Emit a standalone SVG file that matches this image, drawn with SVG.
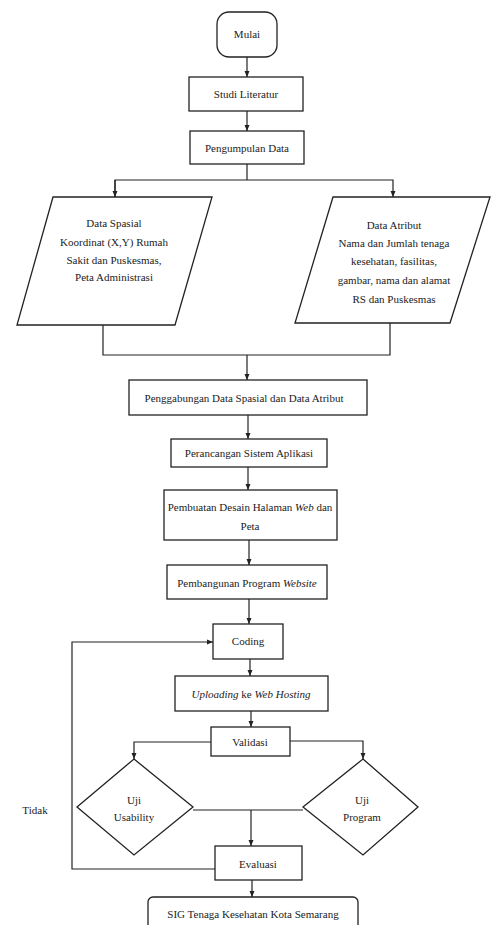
<svg xmlns="http://www.w3.org/2000/svg" width="491" height="925" viewBox="0 0 491 925">
<style>
.n{fill:#fff;stroke:#222;stroke-width:1.3}
.c{fill:none;stroke:#222;stroke-width:1.2}
text{font-family:"Liberation Serif","Times New Roman",serif;font-size:11px;fill:#222;text-anchor:middle;dominant-baseline:central}
.i{font-style:italic}
</style>
<defs>
<marker id="a" markerUnits="userSpaceOnUse" markerWidth="6" markerHeight="6" viewBox="0 0 6 6" refX="6" refY="3" orient="auto">
<path d="M0,0.5 L6,3 L0,5.5 Z" fill="#222"/>
</marker>
</defs>
<rect width="491" height="925" fill="#fff"/>
<g id="connectors">
<line class="c" x1="247" y1="57" x2="247" y2="77" marker-end="url(#a)"/>
<line class="c" x1="247" y1="111" x2="247" y2="131" marker-end="url(#a)"/>
<line class="c" x1="247" y1="164" x2="247" y2="180"/>
<polyline class="c" points="115,197 115,180 393,180 393,197" marker-end="url(#a)"/>
<line class="c" x1="115" y1="180" x2="115" y2="197" marker-end="url(#a)"/>
<polyline class="c" points="103,325 103,355 390,355 390,323"/>
<line class="c" x1="247" y1="355" x2="247" y2="380" marker-end="url(#a)"/>
<line class="c" x1="248" y1="415" x2="248" y2="439" marker-end="url(#a)"/>
<line class="c" x1="248" y1="467" x2="248" y2="490" marker-end="url(#a)"/>
<line class="c" x1="249" y1="540" x2="249" y2="565" marker-end="url(#a)"/>
<line class="c" x1="249" y1="599" x2="249" y2="624" marker-end="url(#a)"/>
<line class="c" x1="250" y1="659" x2="250" y2="676" marker-end="url(#a)"/>
<line class="c" x1="251" y1="711" x2="251" y2="727" marker-end="url(#a)"/>
<polyline class="c" points="211,742 134,742 134,759" marker-end="url(#a)"/>
<polyline class="c" points="290,741 363,741 363,759" marker-end="url(#a)"/>
<line class="c" x1="193" y1="810" x2="303" y2="810"/>
<line class="c" x1="251" y1="810" x2="251" y2="846" marker-end="url(#a)"/>
<polyline class="c" points="215,869 72,869 72,642 213,642" marker-end="url(#a)"/>
<line class="c" x1="252" y1="880" x2="252" y2="897" marker-end="url(#a)"/>
</g>
<g id="mulai"><rect class="n" x="217" y="12" width="60" height="45" rx="12"/><text x="247" y="34">Mulai</text></g>
<g id="studi"><rect class="n" x="189" y="77" width="114" height="34"/><text x="246" y="94">Studi Literatur</text></g>
<g id="pengumpulan"><rect class="n" x="190" y="131" width="114" height="33"/><text x="247" y="148">Pengumpulan Data</text></g>
<g id="spasial"><polygon class="n" points="53,197 212,197 175,325 17,325"/>
<text x="114" y="223">Data Spasial</text><text x="114" y="242">Koordinat (X,Y) Rumah</text><text x="114" y="260">Sakit dan Puskesmas,</text><text x="114" y="277">Peta Administrasi</text></g>
<g id="atribut"><polygon class="n" points="333,197 490,197 450,323 295,323"/>
<text x="394" y="225">Data Atribut</text><text x="394" y="243">Nama dan Jumlah tenaga</text><text x="394" y="261">kesehatan, fasilitas,</text><text x="394" y="280">gambar, nama dan alamat</text><text x="394" y="299">RS dan Puskesmas</text></g>
<g id="penggabungan"><rect class="n" x="129" y="380" width="238" height="35"/><text x="244" y="398">Penggabungan Data Spasial dan Data Atribut</text></g>
<g id="perancangan"><rect class="n" x="171" y="439" width="156" height="28"/><text x="249" y="453">Perancangan Sistem Aplikasi</text></g>
<g id="pembuatan"><rect class="n" x="164" y="490" width="173" height="50"/><text x="250" y="507">Pembuatan Desain Halaman <tspan class="i">Web</tspan> dan</text><text x="250" y="526">Peta</text></g>
<g id="pembangunan"><rect class="n" x="167" y="565" width="160" height="34"/><text x="247" y="583">Pembangunan Program <tspan class="i">Website</tspan></text></g>
<g id="coding"><rect class="n" x="213" y="624" width="70" height="35"/><text x="248" y="641">Coding</text></g>
<g id="uploading"><rect class="n" x="175" y="676" width="153" height="35"/><text x="251" y="694"><tspan class="i">Uploading</tspan> ke <tspan class="i">Web Hosting</tspan></text></g>
<g id="validasi"><rect class="n" x="211" y="727" width="79" height="29"/><text x="250" y="742">Validasi</text></g>
<g id="usability"><polygon class="n" points="134,759 193,807 134,855 77,807"/><text x="134" y="800">Uji</text><text x="134" y="817">Usability</text></g>
<g id="program"><polygon class="n" points="363,759 418,807 363,855 303,807"/><text x="362" y="800">Uji</text><text x="362" y="817">Program</text></g>
<g id="evaluasi"><rect class="n" x="215" y="846" width="87" height="34"/><text x="258" y="864">Evaluasi</text></g>
<g id="tidak"><text x="35" y="810">Tidak</text></g>
<g id="sig"><rect class="n" x="148" y="897" width="210" height="40" rx="5"/><text x="253" y="914">SIG Tenaga Kesehatan Kota Semarang</text></g>
</svg>
